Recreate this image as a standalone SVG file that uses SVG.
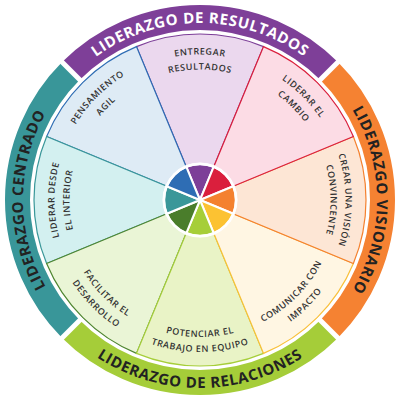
<svg xmlns="http://www.w3.org/2000/svg" width="400" height="400" viewBox="0 0 400 400">
<defs>
<style>
.lbl{font-family:"Open Sans","Liberation Sans",sans-serif;font-weight:600;font-size:9px;letter-spacing:0.6px;fill:#333;}
.band{font-family:"Open Sans","Liberation Sans",sans-serif;font-weight:700;font-size:15px;letter-spacing:0.6px;fill:#222;}
.w{stroke-width:1.2;}
.hub path{stroke:#fff;stroke-width:2;stroke-linejoin:round;}
.ring{fill:none;stroke-width:25;}
</style>
<path id="pEntr1" d="M73.99,127.25 A145.5,145.5 0 0 1 326.01,127.25"/>
<path id="pEntr2" d="M86.98,134.75 A130.5,130.5 0 0 1 313.02,134.75"/>
<path id="pCamb1" d="M162.34,59.46 A145.5,145.5 0 0 1 340.54,237.66"/>
<path id="pCamb2" d="M166.22,73.95 A130.5,130.5 0 0 1 326.05,233.78"/>
<path id="pCrea1" d="M272.75,73.99 A145.5,145.5 0 0 1 272.75,326.01"/>
<path id="pCrea2" d="M265.25,86.98 A130.5,130.5 0 0 1 265.25,313.02"/>
<path id="pDesd1" d="M127.25,326.01 A145.5,145.5 0 0 1 127.25,73.99"/>
<path id="pDesd2" d="M134.75,313.02 A130.5,130.5 0 0 1 134.75,86.98"/>
<path id="pPens1" d="M59.46,237.66 A145.5,145.5 0 0 1 237.66,59.46"/>
<path id="pPens2" d="M73.95,233.78 A130.5,130.5 0 0 1 233.78,73.95"/>
<path id="pComu1" d="M164.54,332.33 A137,137 0 0 0 332.33,164.54"/>
<path id="pComu2" d="M160.66,346.82 A152,152 0 0 0 346.82,160.66"/>
<path id="pPote1" d="M81.35,268.5 A137,137 0 0 0 318.65,268.5"/>
<path id="pPote2" d="M68.36,276 A152,152 0 0 0 331.64,276"/>
<path id="pFaci1" d="M67.67,164.54 A137,137 0 0 0 235.46,332.33"/>
<path id="pFaci2" d="M53.18,160.66 A152,152 0 0 0 239.34,346.82"/>
<path id="bTop" d="M46.71,111.5 A177,177 0 0 1 353.29,111.5"/>
<path id="bRight" d="M288.5,46.71 A177,177 0 0 1 288.5,353.29"/>
<path id="bLeft" d="M111.5,353.29 A177,177 0 0 1 111.5,46.71"/>
<path id="bBottom" d="M37.19,294 A188,188 0 0 0 362.81,294"/>
</defs>
<rect width="400" height="400" fill="#fff"/>

<g id="segments">
<g id="entregar-resultados">
<path class="w" d="M200,200 L136.475,46.636 A166,166 0 0 1 263.525,46.636 Z" fill="#EBD8EE" stroke="#7D3F98"/>
</g>
<g id="pensamiento-agil">
<path class="w" d="M200,200 L46.636,136.475 A166,166 0 0 1 136.475,46.636 Z" fill="#DEEBF5" stroke="#2E6DB4"/>
</g>
<g id="liderar-desde-el-interior">
<path class="w" d="M200,200 L46.636,263.525 A166,166 0 0 1 46.636,136.475 Z" fill="#D3F0F0" stroke="#3A9799"/>
</g>
<g id="facilitar-el-desarrollo">
<path class="w" d="M200,200 L136.475,353.364 A166,166 0 0 1 46.636,263.525 Z" fill="#EAF5D6" stroke="#4E8530"/>
</g>
<g id="potenciar-el-trabajo">
<path class="w" d="M200,200 L263.525,353.364 A166,166 0 0 1 136.475,353.364 Z" fill="#E9F3C6" stroke="#A6CE39"/>
</g>
<g id="comunicar-con-impacto">
<path class="w" d="M200,200 L353.364,263.525 A166,166 0 0 1 263.525,353.364 Z" fill="#FFF6E3" stroke="#F9C03A"/>
</g>
<g id="crear-una-vision">
<path class="w" d="M200,200 L353.364,136.475 A166,166 0 0 1 353.364,263.525 Z" fill="#FDE6D5" stroke="#F4812F"/>
</g>
<g id="liderar-el-cambio">
<path class="w" d="M200,200 L263.525,46.636 A166,166 0 0 1 353.364,136.475 Z" fill="#FCDCE5" stroke="#DA1F3D"/>
</g>
</g>

<g id="hub" class="hub">
<circle cx="200" cy="200" r="37.5" fill="#fff"/>
<path d="M200,200 L186.224,166.740 A36,36 0 0 1 213.776,166.740 Z" fill="#7D3F98"/>
<path d="M200,200 L213.776,166.740 A36,36 0 0 1 233.260,186.224 Z" fill="#DA1F3D"/>
<path d="M200,200 L233.260,186.224 A36,36 0 0 1 233.260,213.776 Z" fill="#F4812F"/>
<path d="M200,200 L233.260,213.776 A36,36 0 0 1 213.776,233.260 Z" fill="#FCC232"/>
<path d="M200,200 L213.776,233.260 A36,36 0 0 1 186.224,233.260 Z" fill="#A6CE39"/>
<path d="M200,200 L186.224,233.260 A36,36 0 0 1 166.740,213.776 Z" fill="#4A7D2B"/>
<path d="M200,200 L166.740,213.776 A36,36 0 0 1 166.740,186.224 Z" fill="#3A9799"/>
<path d="M200,200 L166.740,186.224 A36,36 0 0 1 186.224,166.740 Z" fill="#2E6DB4"/>
<circle cx="200" cy="200" r="36" fill="none" stroke="#fff" stroke-width="2.5"/>
</g>

<g id="bands">
<g id="band-resultados"><path class="ring" d="M70.953,70.953 A182.5,182.5 0 0 1 329.047,70.953" stroke="#7E3F98"/></g>
<g id="band-visionario"><path class="ring" d="M329.047,70.953 A182.5,182.5 0 0 1 329.047,329.047" stroke="#F58232"/></g>
<g id="band-relaciones"><path class="ring" d="M329.047,329.047 A182.5,182.5 0 0 1 70.953,329.047" stroke="#A5CD39"/></g>
<g id="band-centrado"><path class="ring" d="M70.953,329.047 A182.5,182.5 0 0 1 70.953,70.953" stroke="#399699"/></g>
<g stroke="#fff" stroke-width="5">
<line x1="318" y1="82" x2="342" y2="58"/>
<line x1="318" y1="318" x2="342" y2="342"/>
<line x1="82" y1="318" x2="58" y2="342"/>
<line x1="82" y1="82" x2="58" y2="58"/>
</g>
</g>

<g id="band-labels">
<text class="band" style="fill:#fff"><textPath href="#bTop" startOffset="50%" text-anchor="middle">LIDERAZGO DE RESULTADOS</textPath></text>
<text class="band"><textPath href="#bRight" startOffset="50%" text-anchor="middle">LIDERAZGO VISIONARIO</textPath></text>
<text class="band"><textPath href="#bBottom" startOffset="50%" text-anchor="middle">LIDERAZGO DE RELACIONES</textPath></text>
<text class="band"><textPath href="#bLeft" startOffset="50%" text-anchor="middle">LIDERAZGO CENTRADO</textPath></text>
</g>

<g id="segment-labels">
<text class="lbl"><textPath href="#pEntr1" startOffset="50%" text-anchor="middle">ENTREGAR</textPath></text>
<text class="lbl"><textPath href="#pEntr2" startOffset="50%" text-anchor="middle">RESULTADOS</textPath></text>
<text class="lbl"><textPath href="#pCamb1" startOffset="50%" text-anchor="middle">LIDERAR EL</textPath></text>
<text class="lbl"><textPath href="#pCamb2" startOffset="50%" text-anchor="middle">CAMBIO</textPath></text>
<text class="lbl"><textPath href="#pCrea1" startOffset="50%" text-anchor="middle">CREAR UNA VISIÓN</textPath></text>
<text class="lbl"><textPath href="#pCrea2" startOffset="50%" text-anchor="middle">CONVINCENTE</textPath></text>
<text class="lbl"><textPath href="#pComu1" startOffset="50%" text-anchor="middle">COMUNICAR CON</textPath></text>
<text class="lbl"><textPath href="#pComu2" startOffset="50%" text-anchor="middle">IMPACTO</textPath></text>
<text class="lbl"><textPath href="#pPote1" startOffset="50%" text-anchor="middle">POTENCIAR EL</textPath></text>
<text class="lbl"><textPath href="#pPote2" startOffset="50%" text-anchor="middle">TRABAJO EN EQUIPO</textPath></text>
<text class="lbl"><textPath href="#pFaci1" startOffset="50%" text-anchor="middle">FACILITAR EL</textPath></text>
<text class="lbl"><textPath href="#pFaci2" startOffset="50%" text-anchor="middle">DESARROLLO</textPath></text>
<text class="lbl"><textPath href="#pDesd1" startOffset="50%" text-anchor="middle">LIDERAR DESDE</textPath></text>
<text class="lbl"><textPath href="#pDesd2" startOffset="50%" text-anchor="middle">EL INTERIOR</textPath></text>
<text class="lbl"><textPath href="#pPens1" startOffset="50%" text-anchor="middle">PENSAMIENTO</textPath></text>
<text class="lbl"><textPath href="#pPens2" startOffset="50%" text-anchor="middle">AGIL</textPath></text>
</g>
</svg>
